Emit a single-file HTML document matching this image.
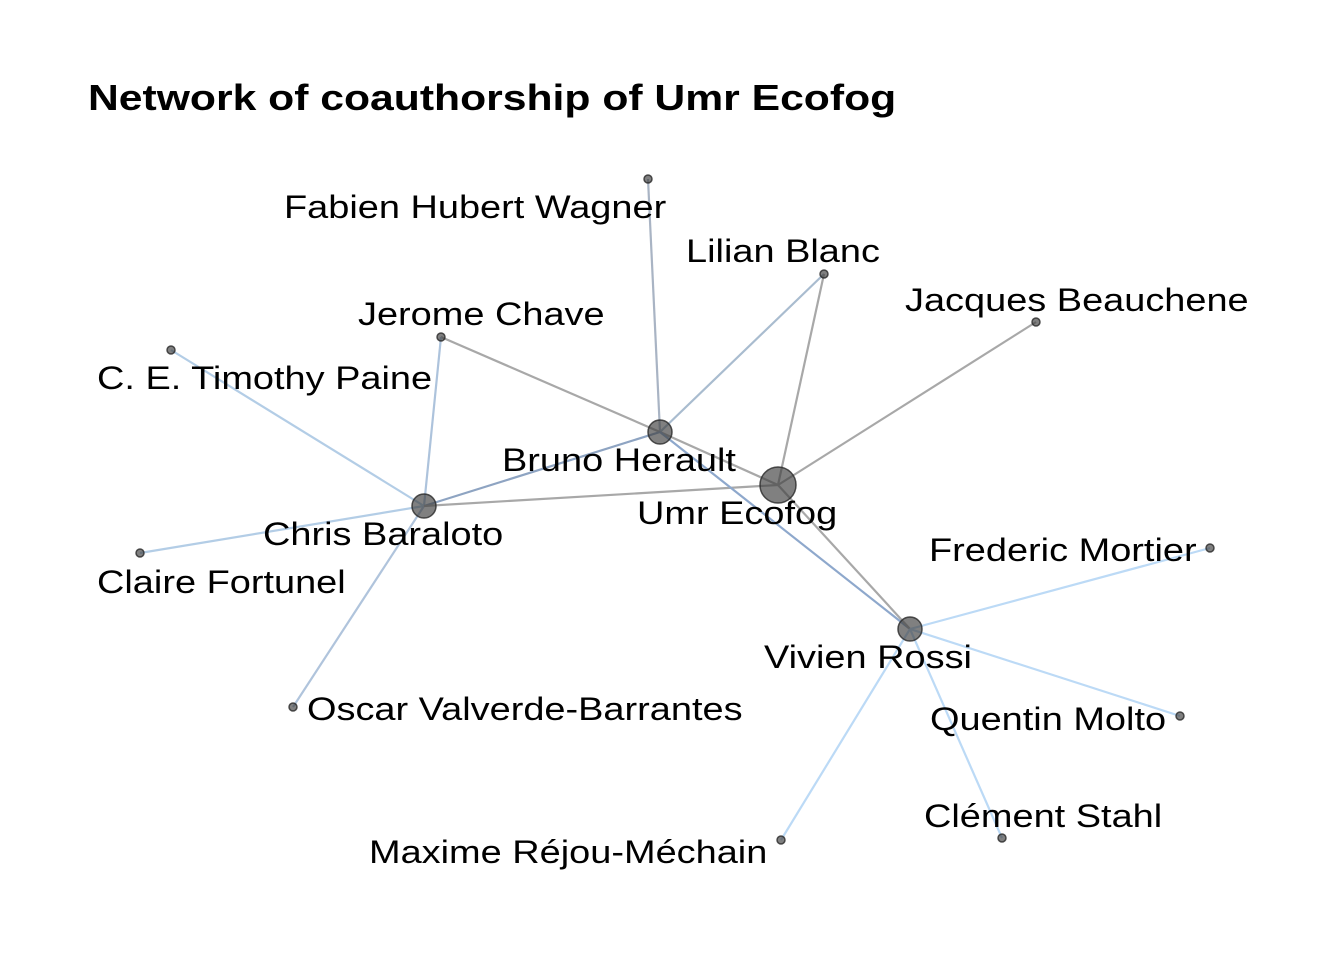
<!DOCTYPE html>
<html><head><meta charset="utf-8">
<style>
html,body{margin:0;padding:0;background:#fff;}
svg{display:block;font-family:"Liberation Sans",Arial,sans-serif;}
</style></head>
<body>
<svg id="chart" width="1344" height="960" viewBox="0 0 1344 960">
<text id="title" x="88" y="110" font-size="36" font-weight="bold" fill="#000">Network of coauthorship of Umr Ecofog</text>
<g id="edges"></g><g id="nodes"></g><g id="labels"></g>
</svg>
<script>
const nodeNames = ["Umr Ecofog","Bruno Herault","Chris Baraloto","Vivien Rossi","Fabien Hubert Wagner","Lilian Blanc","Jacques Beauchene","Jerome Chave","C. E. Timothy Paine","Claire Fortunel","Oscar Valverde-Barrantes","Frederic Mortier","Quentin Molto","Clément Stahl","Maxime Réjou-Méchain"];
const nodeX = [778,660,424,910,648,824,1036,441,171,140,293,1210,1180,1002,781];
const nodeY = [485,432,506,629,179,274,322,337,350,553,707,548,716,838,840];
const nodeSize = [18,12,12,12,4,4,4,4,4,4,4,4,4,4,4];
const labelX = [637,502,263,764,284,686,905,358,97,97,307,929,930,924,369];
const labelY = [524,471,545,668,218,262,311,325,389,593,720,561,730,827,863];
const edgeFrom = [4,5,5,6,7,7,8,9,10,2,2,1,1,0,3,3,3,3];
const edgeTo   = [1,1,0,0,1,2,2,2,2,1,0,0,3,3,11,12,13,14];
const edgeColor= ["#a9b4c4","#a9bccf","#a8a8a8","#a8a8a8","#a8a8a8","#adc3dc","#b3cde6","#b3cde6","#b0c4dc","#8ea4c2","#a8a8a8","#a8a8a8","#8ea8cc","#a8a8a8","#bcdaf6","#bcdaf6","#bcdaf6","#bcdaf6"];
const NS="http://www.w3.org/2000/svg";
const WSCALE=1.185;
const eg=document.getElementById('edges'),ng=document.getElementById('nodes'),lg=document.getElementById('labels');
const title=document.getElementById('title');
title.setAttribute('textLength',title.getComputedTextLength()*WSCALE);
title.setAttribute('lengthAdjust','spacingAndGlyphs');
edgeFrom.forEach((f,i)=>{
  const l=document.createElementNS(NS,'line');
  const t=edgeTo[i];
  l.setAttribute('x1',nodeX[f]);l.setAttribute('y1',nodeY[f]);
  l.setAttribute('x2',nodeX[t]);l.setAttribute('y2',nodeY[t]);
  l.setAttribute('stroke',edgeColor[i]);l.setAttribute('stroke-width','2.2');
  
  
  eg.appendChild(l);
});
nodeNames.forEach((n,i)=>{
  const c=document.createElementNS(NS,'circle');
  c.setAttribute('cx',nodeX[i]);c.setAttribute('cy',nodeY[i]);c.setAttribute('r',nodeSize[i]);
  c.setAttribute('fill','rgba(60,60,60,0.65)');c.setAttribute('stroke','rgba(40,40,40,0.8)');c.setAttribute('stroke-width','1.5');
  
  
  ng.appendChild(c);
  const t=document.createElementNS(NS,'text');
  t.setAttribute('x',labelX[i]);t.setAttribute('y',labelY[i]);t.setAttribute('font-size','32');t.setAttribute('fill','#000');
  t.textContent=n;
  
  
  lg.appendChild(t);
  t.setAttribute('textLength',t.getComputedTextLength()*WSCALE);
  t.setAttribute('lengthAdjust','spacingAndGlyphs');
});
</script>
</body></html>
